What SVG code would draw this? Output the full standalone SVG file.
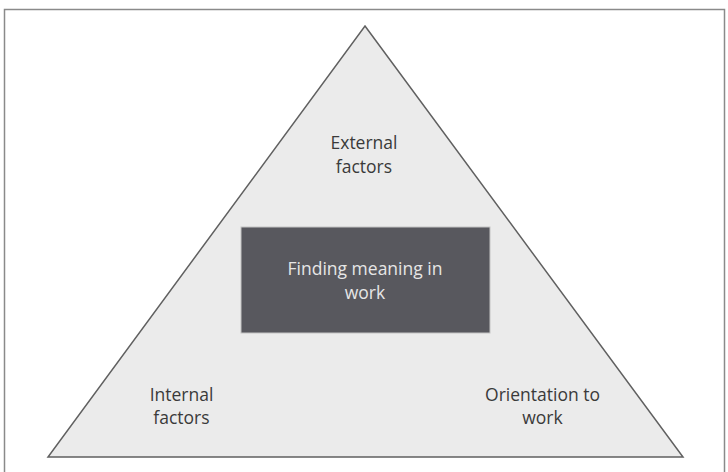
<svg xmlns="http://www.w3.org/2000/svg" width="728" height="472" viewBox="0 0 728 472">
<style>
.lbl{font-family:"Open Sans","Liberation Sans",sans-serif;font-size:17.5px;fill:#3a3a3a;text-anchor:middle}
.in{font-family:"Open Sans","Liberation Sans",sans-serif;font-size:17.5px;fill:#e6e6e6;text-anchor:middle}
</style>
<rect x="0" y="0" width="728" height="472" fill="#ffffff"/>
<rect x="4.5" y="9.5" width="720" height="470" fill="#ffffff" stroke="#8a8a8a" stroke-width="1.5"/>
<g id="triangle">
<polygon points="365,26 683,457 48,457" fill="#ebebeb" stroke="#606060" stroke-width="1.5" stroke-linejoin="miter"/>
</g>
<g id="external">
<text class="lbl" x="364" y="149">External</text>
<text class="lbl" x="364" y="173">factors</text>
</g>
<g id="center">
<rect x="241" y="227" width="249" height="106" fill="#58585e" stroke="#c4c4c4" stroke-width="1"/>
<text class="in" x="365" y="275">Finding meaning in</text>
<text class="in" x="365" y="299">work</text>
</g>
<g id="internal">
<text class="lbl" x="181.5" y="401">Internal</text>
<text class="lbl" x="181.5" y="424">factors</text>
</g>
<g id="orientation">
<text class="lbl" x="542.5" y="401">Orientation to</text>
<text class="lbl" x="542.5" y="424">work</text>
</g>
<g id="connectors"/>
</svg>
